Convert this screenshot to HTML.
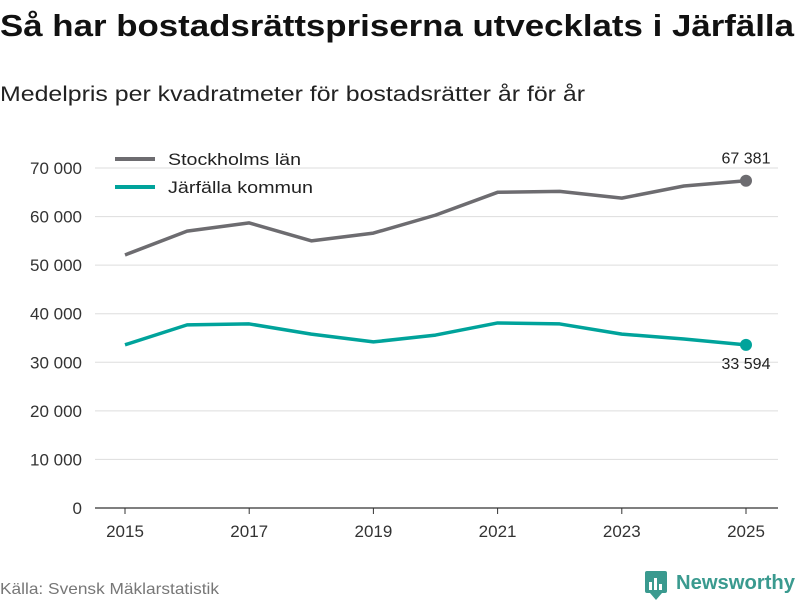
<!DOCTYPE html>
<html><head><meta charset="utf-8"><style>
body{margin:0;width:800px;height:600px;background:#fff;font-family:"Liberation Sans",sans-serif;overflow:hidden}
</style></head><body>
<svg width="800" height="600" xmlns="http://www.w3.org/2000/svg">
<text x="0" y="36" font-size="31" font-weight="bold" fill="#111" textLength="794" lengthAdjust="spacingAndGlyphs">Så har bostadsrättspriserna utvecklats i Järfälla</text>
<text x="0" y="101" font-size="21" fill="#222" textLength="585" lengthAdjust="spacingAndGlyphs">Medelpris per kvadratmeter för bostadsrätter år för år</text>
<g id="grid"></g><g id="series"></g>
<g>
<line x1="115" y1="159" x2="155" y2="159" stroke="#6d6c70" stroke-width="4"/>
<text x="168" y="165" font-size="17" fill="#222" textLength="133" lengthAdjust="spacingAndGlyphs">Stockholms län</text>
<line x1="115" y1="187" x2="155" y2="187" stroke="#00a39b" stroke-width="4"/>
<text x="168" y="193" font-size="17" fill="#222" textLength="145" lengthAdjust="spacingAndGlyphs">Järfälla kommun</text>
</g>
<text x="0" y="594" font-size="16" fill="#777" textLength="219" lengthAdjust="spacingAndGlyphs">Källa: Svensk Mäklarstatistik</text>
<g>
<rect x="645" y="571" width="22" height="22" rx="2" fill="#3a9a8f"/>
<path d="M650 593 L656 600 L662 593 Z" fill="#3a9a8f"/>
<rect x="649" y="582" width="3" height="8" fill="#fff"/><rect x="654" y="578" width="3" height="12" fill="#fff"/><rect x="659" y="584" width="3" height="6" fill="#fff"/>
<text x="676" y="589" font-size="20" font-weight="bold" fill="#3a9a8f" textLength="119" lengthAdjust="spacingAndGlyphs">Newsworthy</text>
</g>
</svg>
<script>
const years=[2015,2016,2017,2018,2019,2020,2021,2022,2023,2024,2025];
const stockholm=[52100,57000,58700,55000,56600,60300,65000,65200,63800,66300,67381];
const jarfalla=[33600,37700,37900,35800,34200,35600,38100,37900,35800,34800,33594];
const yTicks=[0,10000,20000,30000,40000,50000,60000,70000];
const xTicks=[2015,2017,2019,2021,2023,2025];
const NS="http://www.w3.org/2000/svg";
const x=v=>125+(v-2015)*62.1;
const y=v=>508-v*0.004857;
const fmt=v=>String(v).replace(/\B(?=(\d{3})+(?!\d))/g,"\u00a0");
function mk(t,a,p){const e=document.createElementNS(NS,t);for(const k in a)e.setAttribute(k,a[k]);p.appendChild(e);return e;}
const g=document.getElementById('grid'),s=document.getElementById('series');
yTicks.forEach(v=>{
 const l=mk('line',{x1:95,x2:778,y1:y(v),y2:y(v),stroke:v?'#ddd':'#333','stroke-width':v?1:1.2},g);
 
 
 const t=mk('text',{x:82,y:y(v)+6,'font-size':17,fill:'#333','text-anchor':'end'},g);t.textContent=fmt(v);
 
 
});
xTicks.forEach(v=>{
 const l=mk('line',{x1:x(v),x2:x(v),y1:508,y2:514,stroke:'#333'},g);
 
 
 const t=mk('text',{x:x(v),y:537,'font-size':17,fill:'#333','text-anchor':'middle'},g);t.textContent=v;
 
 
});
function line(data,color,name,labDy){
 const p=mk('polyline',{points:data.map((v,i)=>x(years[i])+','+y(v)).join(' '),fill:'none',stroke:color,'stroke-width':3.5,'stroke-linejoin':'round'},s);
 
 
 const n=data.length-1;
 const c=mk('circle',{cx:x(years[n]),cy:y(data[n]),r:6,fill:color},s);
 
 
 const t=mk('text',{x:x(years[n]),y:y(data[n])+labDy,'font-size':16,fill:'#222','text-anchor':'middle'},s);t.textContent=fmt(data[n]);
 
 
}
line(stockholm,'#6d6c70','stockholm',-17);
line(jarfalla,'#00a39b','jarfalla',24);
</script>
</body></html>
